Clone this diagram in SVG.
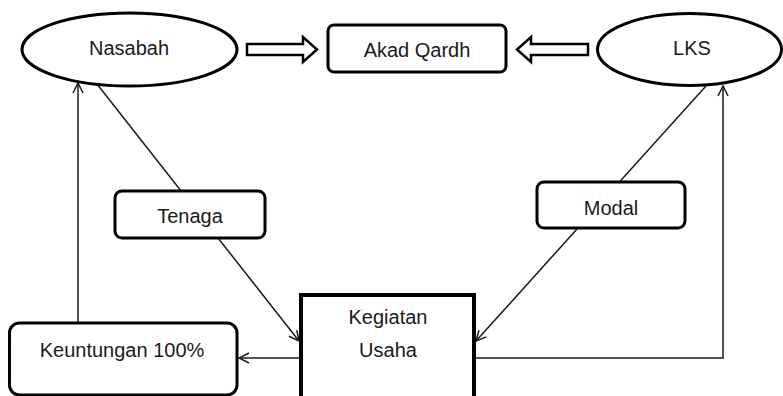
<svg xmlns="http://www.w3.org/2000/svg" width="783" height="396" viewBox="0 0 783 396">
<style>
.shape{fill:#fff;stroke:#000;stroke-width:3}
.thick{fill:#fff;stroke:#000;stroke-width:4}
.blk{fill:#fff;stroke:#000;stroke-width:2.5;stroke-linejoin:miter}
.conn{fill:none;stroke:#1a1a1a;stroke-width:1.5}
text{font-family:"Liberation Sans",Arial,sans-serif;font-size:20px;fill:#1a1a1a;text-anchor:middle}
</style>
<defs>
<marker id="open" viewBox="0 0 12 12" refX="11" refY="6" markerWidth="12" markerHeight="12" markerUnits="userSpaceOnUse" orient="auto">
<path d="M1,1 L11,6 L1,11" fill="none" stroke="#1a1a1a" stroke-width="1.5"/>
</marker>
</defs>
<g id="connectors">
<line class="conn" x1="78" y1="323" x2="78" y2="83" marker-end="url(#open)"/>
<line class="conn" x1="97" y1="84" x2="299" y2="341" marker-end="url(#open)"/>
<line class="conn" x1="706" y1="86" x2="476" y2="341" marker-end="url(#open)"/>
<line class="conn" x1="301" y1="358" x2="239" y2="358" marker-end="url(#open)"/>
<polyline class="conn" points="474,358 723,358 723,86" marker-end="url(#open)"/>
<path class="blk" d="M247,44 L303,44 L303,37 L317,49.5 L303,62 L303,55 L247,55 Z"/>
<path class="blk" d="M588,44 L531,44 L531,37 L517,49.5 L531,62 L531,55 L588,55 Z"/>
</g>
<g id="nasabah">
<ellipse class="shape" cx="129.5" cy="49.5" rx="107.5" ry="36.5"/>
<text x="129" y="55">Nasabah</text>
</g>
<g id="akad">
<rect class="shape" x="328" y="25" width="178" height="47" rx="6"/>
<text x="417" y="57">Akad Qardh</text>
</g>
<g id="lks">
<ellipse class="shape" cx="689.5" cy="49.5" rx="92" ry="36"/>
<text x="692" y="55">LKS</text>
</g>
<g id="tenaga">
<rect class="shape" x="115" y="191" width="150" height="47" rx="7"/>
<text x="190" y="223">Tenaga</text>
</g>
<g id="modal">
<rect class="shape" x="537" y="182" width="148" height="46" rx="7"/>
<text x="611" y="215">Modal</text>
</g>
<g id="keuntungan">
<rect class="shape" x="9.5" y="323" width="227.5" height="72" rx="10"/>
<text x="122" y="357">Keuntungan 100%</text>
</g>
<g id="kegiatan">
<rect class="thick" x="301" y="295" width="173" height="110"/>
<text x="388" y="324">Kegiatan</text>
<text x="388" y="357">Usaha</text>
</g>
</svg>
